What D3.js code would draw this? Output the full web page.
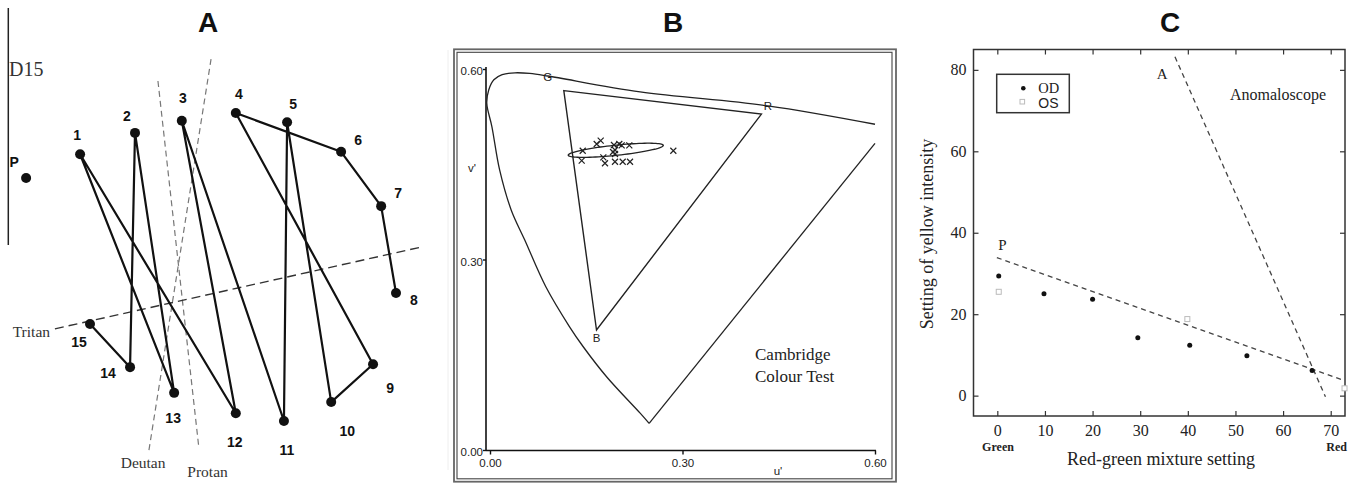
<!DOCTYPE html>
<html><head><meta charset="utf-8">
<script src="https://cdn.jsdelivr.net/npm/d3@7"></script>
<style>body{margin:0;background:#fff}svg{display:block}</style>
</head><body>
<svg id="chart" width="1359" height="485"></svg>
<script>
// ================= DATA =================
const panelTitles = ["A", "B", "C"];

// Panel A: D15 cap arrangement (diagram units 0-100)
const capIds = ["P","1","2","3","4","5","6","7","8","9","10","11","12","13","14","15"];
const capX   = [5.8,17.8,30.0,40.4,52.4,63.8,75.8,84.7,88.0,82.9,73.6,63.1,52.4,38.7,28.9,20.0];
const capY   = [36.7,31.8,27.4,24.9,23.3,25.2,31.3,42.5,60.4,75.1,82.9,86.8,85.2,81.0,75.7,66.8];
const capOrder = ["15","14","2","13","1","12","3","11","5","10","9","4","6","7","8"];
const axisNames = ["Deutan","Protan","Tritan"];
const axisX1 = [33.1,35.1,12.2];
const axisY1 = [92.8,16.7,67.8];
const axisX2 = [46.9,44.2,93.8];
const axisY2 = [12.2,92.4,50.9];

// Panel B: Cambridge Colour Test, CIE u'v'
const locusU = [0.600,0.433,0.234,0.090,0.062,0.039,0.019,0.006,-0.002,-0.005,0.003,0.015,0.033,0.054,0.087,0.124,0.145,0.182,0.234,0.248];
const locusV = [0.513,0.542,0.564,0.589,0.593,0.594,0.591,0.583,0.567,0.546,0.509,0.441,0.378,0.331,0.257,0.194,0.163,0.115,0.058,0.042];
const purpleU = [0.248,0.600];
const purpleV = [0.042,0.483];
const gamutNames = ["G","R","B"];
const gamutU = [0.115,0.423,0.166];
const gamutV = [0.566,0.529,0.189];
const primaryLabelU = [0.090,0.433,0.166];
const primaryLabelV = [0.588,0.542,0.176];
const ellipseCenter = [0.196,0.472];
const ellipseAxes = [0.0745,0.008];
const ellipseAngleDeg = 6;
const crossU = [0.1445,0.1429,0.1663,0.1725,0.1766,0.1792,0.1932,0.2015,0.2052,0.2171,0.1948,0.2068,0.2182,0.2857,0.1948,0.1948,0.1917];
const crossV = [0.4713,0.4556,0.4819,0.4871,0.4609,0.4515,0.4803,0.4819,0.4798,0.4798,0.4540,0.4540,0.4540,0.4713,0.4724,0.4661,0.4693];
const bTicks = [0, 0.30, 0.60];

// Panel C: Anomaloscope
const odX = [0.3,9.8,20.0,29.5,40.4,52.4,66.1];
const odY = [29.4,25.0,23.7,14.2,12.4,9.8,6.2];
const osX = [0.3,39.9,72.9];
const osY = [25.5,18.8,1.8];
const pLineX = [-0.1,72.6];
const pLineY = [33.9,3.8];
const aLineX = [37.3,68.9];
const aLineY = [83.2,-0.3];
const cXTicks = [0,10,20,30,40,50,60,70];
const cYTicks = [0,20,40,60,80];

// ================= DRAW =================
const svg = d3.select("#chart");
svg.append("rect").attr("width",1359).attr("height",485).attr("fill","#fff");
const serif = "'Liberation Serif','Times New Roman',serif";
const sans = "'Liberation Sans',Arial,sans-serif";

// Titles
const titleX = [208, 673, 1170];
svg.selectAll("text.title").data(panelTitles).join("text")
  .attr("class","title").attr("x",(d,i)=>titleX[i]).attr("y",32)
  .attr("text-anchor","middle").attr("font-family",sans).attr("font-weight","bold")
  .attr("font-size",28).attr("fill","#111").text(d=>d);

// ---------- Panel A ----------
{
  const g = svg.append("g");
  const x = d3.scaleLinear().domain([0,100]).range([0,450]);
  const y = d3.scaleLinear().domain([0,100]).range([0,485]);
  g.append("line").attr("x1",8.3).attr("x2",8.3).attr("y1",8).attr("y2",245)
    .attr("stroke","#222").attr("stroke-width",1.5);
  g.append("line").attr("x1",448).attr("x2",448).attr("y1",50).attr("y2",470)
    .attr("stroke","#eee").attr("stroke-width",1);
  g.append("text").attr("x",9).attr("y",76).attr("font-family",serif)
    .attr("font-size",20).attr("fill","#333").text("D15");

  const axStyle = [{c:"#777",w:1.2,d:"6,4"},{c:"#777",w:1.2,d:"6,4"},{c:"#333",w:1.4,d:"9,5"}];
  axisNames.forEach((n,i)=>{
    g.append("line").attr("x1",x(axisX1[i])).attr("y1",y(axisY1[i]))
      .attr("x2",x(axisX2[i])).attr("y2",y(axisY2[i]))
      .attr("stroke",axStyle[i].c).attr("stroke-width",axStyle[i].w)
      .attr("stroke-dasharray",axStyle[i].d);
  });
  const axLabelPos = [[120.7,468],[187.3,476.7],[12.7,337]];
  axisNames.forEach((n,i)=>{
    g.append("text").attr("x",axLabelPos[i][0]).attr("y",axLabelPos[i][1])
      .attr("font-family",serif).attr("font-size",15.5).attr("fill","#333").text(n);
  });

  const idx = id => capIds.indexOf(id);
  const line = d3.line().x(id=>x(capX[idx(id)])).y(id=>y(capY[idx(id)]));
  g.append("path").attr("d",line(capOrder)).attr("fill","none")
    .attr("stroke","#111").attr("stroke-width",2.2).attr("stroke-linejoin","round");
  g.selectAll("circle.cap").data(capIds).join("circle").attr("class","cap")
    .attr("cx",(d,i)=>x(capX[i])).attr("cy",(d,i)=>y(capY[i])).attr("r",5).attr("fill","#111");
  const labDx = [-12,-3,-8,1,3,6,17,17,18,17,16,3,-1,-1,-22,-11];
  const labDy = [-16,-19,-17,-23,-19,-18,-12,-13,7,24,29,29,29,25,6,18];
  g.selectAll("text.cap").data(capIds).join("text").attr("class","cap")
    .attr("x",(d,i)=>x(capX[i])+labDx[i]).attr("y",(d,i)=>y(capY[i])+labDy[i]+5)
    .attr("text-anchor","middle").attr("font-family",sans).attr("font-weight","bold")
    .attr("font-size",14).attr("fill","#111").text(d=>d);
}

// ---------- Panel B ----------
{
  const g = svg.append("g");
  const x = d3.scaleLinear().domain([0,0.6]).range([490,875]);
  const y = d3.scaleLinear().domain([0,0.6]).range([450,69]);
  // double frame
  g.append("rect").attr("x",454).attr("y",49.3).attr("width",442).attr("height",432.4)
    .attr("fill","none").attr("stroke","#666").attr("stroke-width",1.8);
  g.append("rect").attr("x",457).attr("y",52.3).attr("width",435).attr("height",426.5)
    .attr("fill","none").attr("stroke","#444").attr("stroke-width",1.1);
  // axes lines
  g.append("line").attr("x1",486).attr("x2",876).attr("y1",450.5).attr("y2",450.5)
    .attr("stroke","#111").attr("stroke-width",1.6);
  g.append("line").attr("x1",486).attr("x2",486).attr("y1",450.5).attr("y2",67)
    .attr("stroke","#111").attr("stroke-width",1.6);
  const ax = g.append("g").attr("transform","translate(0,450.5)")
    .call(d3.axisBottom(x).tickValues(bTicks).tickFormat(d3.format(".2f")).tickSize(4).tickPadding(4.5));
  const ay = g.append("g").attr("transform","translate(486,0)")
    .call(d3.axisLeft(y).tickValues(bTicks).tickFormat(d3.format(".2f")).tickSize(3).tickPadding(0));
  [ax,ay].forEach(a=>{
    a.select(".domain").remove();
    a.selectAll("line").attr("stroke","#111").attr("stroke-width",1.4);
    a.selectAll("text").attr("font-family",sans).attr("font-size",11.5).attr("fill","#222");
  });
  ay.selectAll("text").attr("dy","0.5em");
  g.append("text").attr("x",778).attr("y",475).attr("text-anchor","middle")
    .attr("font-family",sans).attr("font-size",11.5).attr("fill","#222").text("u'");
  g.append("text").attr("x",472).attr("y",172).attr("text-anchor","middle")
    .attr("font-family",sans).attr("font-size",11.5).attr("fill","#222").text("v'");

  const pts = locusU.map((u,i)=>[u,locusV[i]]);
  g.append("path").attr("d",d3.line().x(d=>x(d[0])).y(d=>y(d[1])).curve(d3.curveCatmullRom.alpha(0.5))(pts))
    .attr("fill","none").attr("stroke","#222").attr("stroke-width",1.3);
  g.append("path").attr("d",d3.line().x(d=>x(d[0])).y(d=>y(d[1]))(purpleU.map((u,i)=>[u,purpleV[i]])))
    .attr("fill","none").attr("stroke","#222").attr("stroke-width",1.3);
  const tri = gamutU.map((u,i)=>[u,gamutV[i]]);
  g.append("path").attr("d",d3.line().x(d=>x(d[0])).y(d=>y(d[1]))(tri)+"Z")
    .attr("fill","none").attr("stroke","#222").attr("stroke-width",1.4);
  g.selectAll("text.prim").data(gamutNames).join("text").attr("class","prim")
    .attr("x",(d,i)=>x(primaryLabelU[i])).attr("y",(d,i)=>y(primaryLabelV[i])+4)
    .attr("text-anchor","middle").attr("font-family",sans).attr("font-size",11.5)
    .attr("fill","#222").text(d=>d);

  // ellipse
  const th = ellipseAngleDeg*Math.PI/180;
  const ell = d3.range(0,361,4).map(t=>{
    const r = t*Math.PI/180;
    const a = ellipseAxes[0]*Math.cos(r), b = ellipseAxes[1]*Math.sin(r);
    return [ellipseCenter[0]+a*Math.cos(th)-b*Math.sin(th), ellipseCenter[1]+a*Math.sin(th)+b*Math.cos(th)];
  });
  g.append("path").attr("d",d3.line().x(d=>x(d[0])).y(d=>y(d[1])).curve(d3.curveLinearClosed)(ell))
    .attr("fill","none").attr("stroke","#222").attr("stroke-width",1.3);
  g.selectAll("path.cross").data(crossU).join("path").attr("class","cross")
    .attr("d",(d,i)=>{const cx=x(d), cy=y(crossV[i]);
      return `M${cx-3},${cy-3}L${cx+3},${cy+3}M${cx-3},${cy+3}L${cx+3},${cy-3}`;})
    .attr("stroke","#222").attr("stroke-width",1.2);

  g.append("text").attr("x",755).attr("y",360).attr("font-family",serif)
    .attr("font-size",17).attr("fill","#222").text("Cambridge");
  g.append("text").attr("x",755).attr("y",381.7).attr("font-family",serif)
    .attr("font-size",17).attr("fill","#222").text("Colour Test");
}

// ---------- Panel C ----------
{
  const g = svg.append("g");
  const x = d3.scaleLinear().domain([-5,73]).range([973.5,1345]);
  const y = d3.scaleLinear().domain([-5,85]).range([416,49.5]);
  const frame = "#333";
  const styleAxis = a=>{
    a.select(".domain").remove();
    a.selectAll("line").attr("stroke",frame).attr("stroke-width",1.2);
    a.selectAll("text").attr("font-family",serif).attr("font-size",16).attr("fill","#222");
  };
  styleAxis(g.append("g").attr("transform","translate(0,416)")
    .call(d3.axisBottom(x).tickValues(cXTicks).tickSize(-5).tickPadding(9)));
  styleAxis(g.append("g").attr("transform","translate(973.5,0)")
    .call(d3.axisLeft(y).tickValues(cYTicks).tickSize(-5).tickPadding(7)));
  styleAxis(g.append("g").attr("transform","translate(0,49.5)")
    .call(d3.axisTop(x).tickValues(cXTicks).tickSize(-5).tickFormat("")));
  styleAxis(g.append("g").attr("transform","translate(1345,0)")
    .call(d3.axisRight(y).tickValues(cYTicks).tickSize(-5).tickFormat("")));
  g.append("rect").attr("x",973.5).attr("y",49.5).attr("width",371.5).attr("height",366.5)
    .attr("fill","none").attr("stroke",frame).attr("stroke-width",1.5);

  g.append("text").attr("x",998).attr("y",451).attr("text-anchor","middle")
    .attr("font-family",serif).attr("font-weight","bold").attr("font-size",12).attr("fill","#222").text("Green");
  g.append("text").attr("x",1336.7).attr("y",451).attr("text-anchor","middle")
    .attr("font-family",serif).attr("font-weight","bold").attr("font-size",12).attr("fill","#222").text("Red");
  g.append("text").attr("x",1161).attr("y",464.5).attr("text-anchor","middle")
    .attr("font-family",serif).attr("font-size",18).attr("fill","#222").text("Red-green mixture setting");
  g.append("text").attr("transform","translate(932.5,234) rotate(-90)").attr("text-anchor","middle")
    .attr("font-family",serif).attr("font-size",18).attr("fill","#222").text("Setting of yellow intensity");

  const dl = d3.line().x(d=>x(d[0])).y(d=>y(d[1]));
  [[pLineX,pLineY],[aLineX,aLineY]].forEach(([lx,ly])=>{
    g.append("path").attr("d",dl(lx.map((v,i)=>[v,ly[i]]))).attr("fill","none")
      .attr("stroke","#444").attr("stroke-width",1.3).attr("stroke-dasharray","5,4");
  });
  g.append("text").attr("x",x(0.2)).attr("y",250).attr("font-family",serif)
    .attr("font-size",15).attr("fill","#222").text("P");
  g.append("text").attr("x",1156.7).attr("y",79).attr("font-family",serif)
    .attr("font-size",15).attr("fill","#222").text("A");
  g.append("text").attr("x",1278).attr("y",100).attr("text-anchor","middle")
    .attr("font-family",serif).attr("font-size",16).attr("fill","#222").text("Anomaloscope");

  g.selectAll("circle.od").data(odX).join("circle").attr("class","od")
    .attr("cx",d=>x(d)).attr("cy",(d,i)=>y(odY[i])).attr("r",2.5).attr("fill","#111");
  g.selectAll("rect.os").data(osX).join("rect").attr("class","os")
    .attr("x",d=>x(d)-2.5).attr("y",(d,i)=>y(osY[i])-2.5).attr("width",5).attr("height",5)
    .attr("fill","#fff").attr("stroke","#bbb").attr("stroke-width",1);

  // legend
  g.append("rect").attr("x",996.7).attr("y",74.3).attr("width",72.6).attr("height",38.4)
    .attr("fill","#fff").attr("stroke","#333").attr("stroke-width",1.5);
  g.append("circle").attr("cx",1023.3).attr("cy",88.3).attr("r",2.3).attr("fill","#111");
  g.append("rect").attr("x",1020).attr("y",99.4).attr("width",4.6).attr("height",4.6)
    .attr("fill","#fff").attr("stroke","#bbb").attr("stroke-width",1);
  g.append("text").attr("x",1038.3).attr("y",93).attr("font-family",serif)
    .attr("font-size",14.5).attr("fill","#222").text("OD");
  g.append("text").attr("x",1038.3).attr("y",107.5).attr("font-family",sans)
    .attr("font-size",14).attr("fill","#222").text("OS");
}
</script>
</body></html>
